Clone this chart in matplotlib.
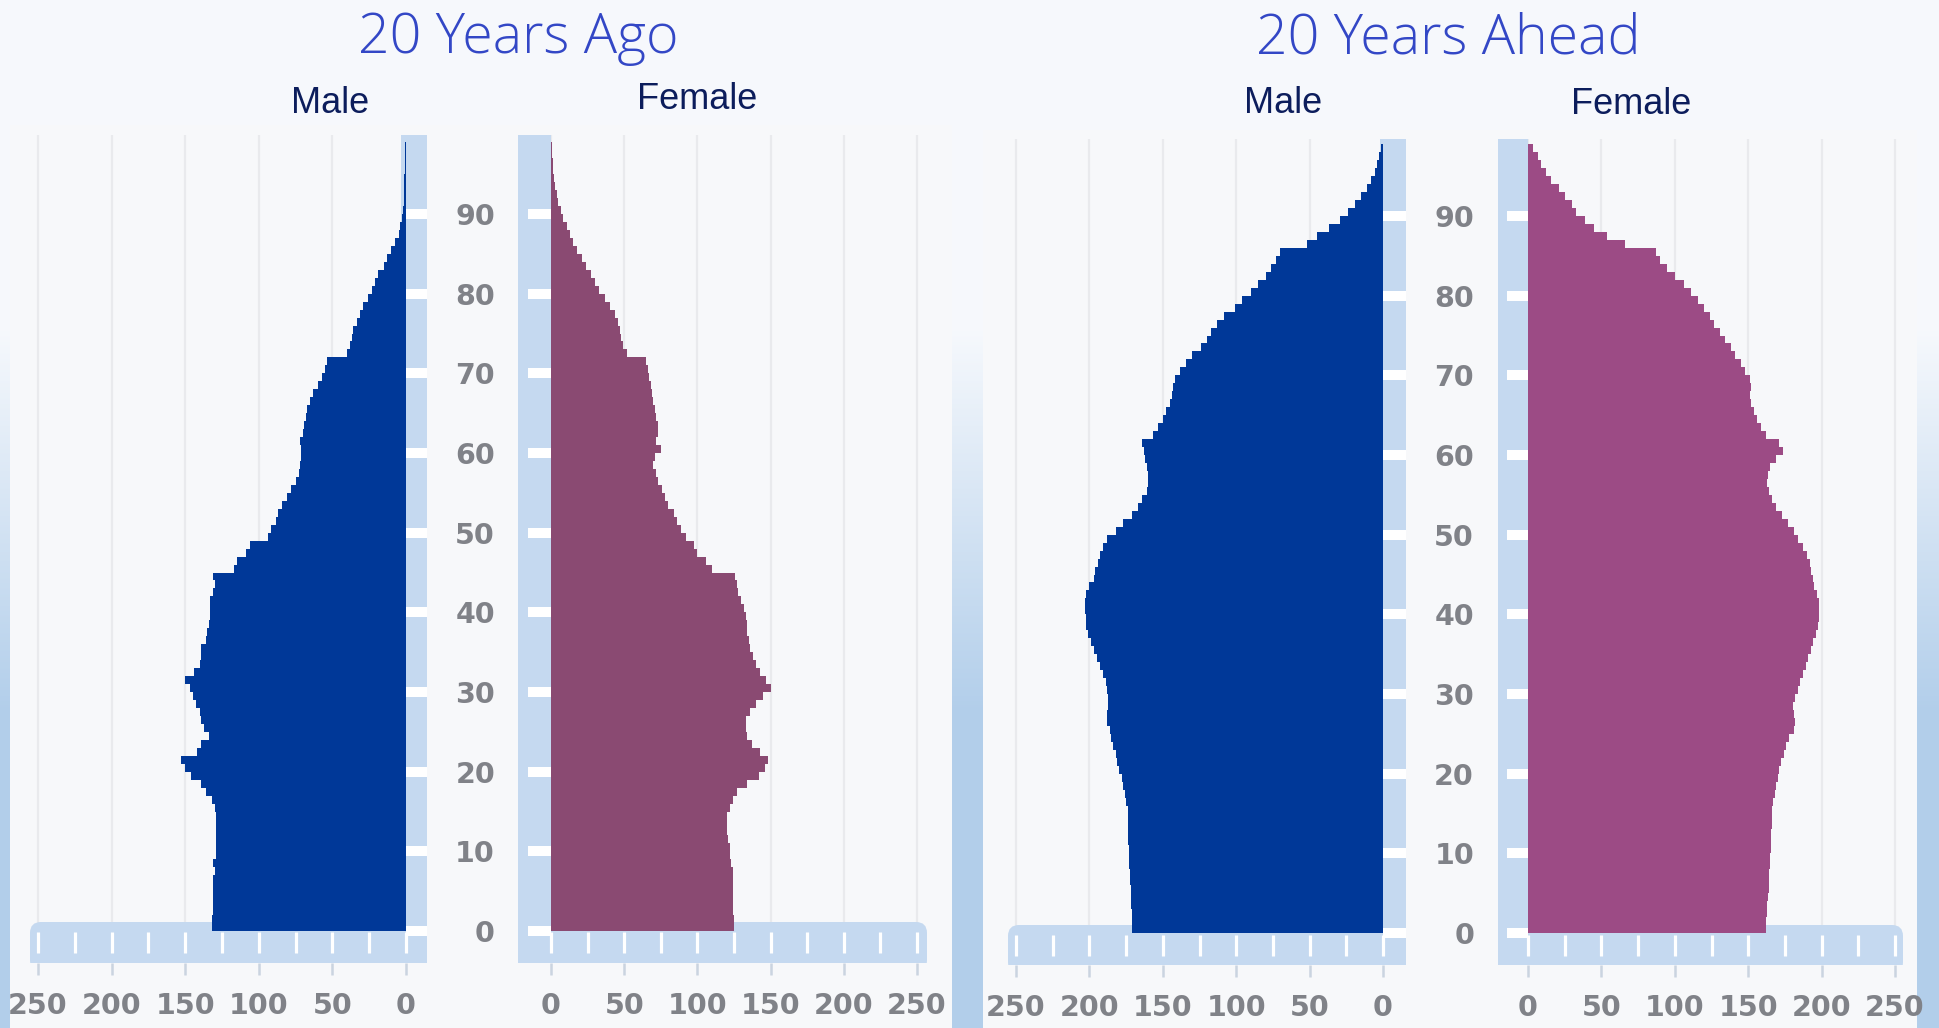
import numpy as np
import matplotlib.pyplot as plt
from matplotlib.patches import Rectangle, FancyBboxPatch

# ------------------------------------------------------------
# data (thousands of people per single year of age)
# ------------------------------------------------------------
ages = np.arange(99)

ago_male = [
    132, 132, 131, 131, 131, 131, 131, 130, 131, 129,
    129, 129, 129, 129, 129, 130, 132, 136, 139, 146,
    150, 153, 142, 139, 134, 137, 139, 140, 143, 145,
    147, 150, 144, 140, 139, 139, 136, 135, 134, 133,
    133, 133, 131, 130, 131, 117, 115, 109, 106, 94,
    92, 88, 87, 84, 81, 78, 75, 73, 72, 71,
    71, 72, 70, 69, 68, 67, 65, 63, 60, 57,
    55, 54, 40, 38, 37, 36, 33, 31, 29, 26,
    23, 21, 19, 15, 13, 10, 7.5, 5, 4, 3,
    2, 1.5, 1.5, 1.2, 1.2, 1, 1, 1, 1,
]
ago_female = [
    125, 125, 124, 124, 124, 124, 124, 124, 123, 122,
    122, 121, 120, 120, 120, 122, 124, 127, 134, 142,
    146, 148, 143, 137, 134, 133, 133, 136, 140, 145,
    150, 147, 143, 140, 138, 136, 135, 134, 134, 133,
    132, 130, 128, 127, 126, 110, 106, 100, 98, 92,
    89, 86, 84, 80, 78, 76, 73, 72, 70, 71,
    75, 72, 73, 73, 72, 71, 70, 69, 68, 67,
    66, 65, 52, 49, 48, 47, 46, 44, 40, 37,
    33, 30, 27, 24, 21, 18, 15, 13, 11, 8.5,
    6.5, 5, 4, 3, 2.3, 1.6, 1.2, 1, 0.8,
]
ahead_male = [
    171, 171, 171, 171.5, 172, 172, 172.5, 172.5, 173, 173,
    173, 173.5, 173.5, 174, 174, 174, 175, 176, 177, 178,
    180, 181, 182, 184, 185, 186, 188, 188, 187, 187,
    188, 189, 191, 193, 195, 197, 199, 201, 202, 202,
    203, 203, 202, 200, 197, 196, 194, 193, 191, 188,
    182, 177, 171, 167, 164, 161, 160, 160, 161, 162,
    163, 164, 157, 153, 150, 148, 145, 144, 143, 142,
    138, 134, 130, 124, 120, 117, 113, 108, 101, 96,
    90, 85, 80, 76, 73, 70, 52, 45, 37, 29,
    24, 19, 15, 11, 8, 5.5, 4, 2.5, 1.5,
]
ahead_female = [
    162, 162, 163, 163, 163.5, 164, 164, 164.5, 165, 165,
    165.5, 165.5, 165.5, 166, 166, 166.5, 167, 168, 169, 170,
    171, 172.5, 174.5, 176, 178, 181, 182, 181, 180.5, 182,
    184, 185.5, 187.5, 189.5, 191, 193, 194, 196.5, 197.5, 198.5,
    198.5, 198, 197, 195, 194, 193, 192, 190, 187, 184,
    181, 177, 173, 169, 166, 164, 163, 163.5, 165, 169,
    174, 171, 162, 159, 156, 154, 152, 151, 152, 151,
    148, 145, 141, 138, 134, 131, 127, 124, 120, 116,
    111, 106, 100, 95, 90, 87, 66, 54, 45, 39,
    33, 30, 25, 21, 16, 12, 9, 6.6, 3.5,
]

x_ticks = [0, 50, 100, 150, 200, 250]
age_ticks = [0, 10, 20, 30, 40, 50, 60, 70, 80, 90]
titles = ["20 Years Ago", "20 Years Ahead"]

# ------------------------------------------------------------
# layout (pixel positions in the 1939x1028 picture)
# ------------------------------------------------------------
W, H = 1939, 1028
MALE_C = "#003898"
STRIP = "#c5d9f0"
TICK_GREY = "#808288"
LABEL_SIZE = 20.5

panels = [
    dict(title_x=518, title_base=53,
         male_lab=(330, 113), fem_lab=(697, 109),
         m_zero=406, m_250=38, f_zero=551, f_250=917,
         age0=931, age90=214, top=135, bottom=963, strip_top=922,
         m_left=14, m_right=427, m_strip=401, m_strip_x0=30,
         f_left=518, f_right=935, f_notch=528, f_strip_x1=927,
         lab_right=495, bg=(10, 125, 952),
         male=ago_male, female=ago_female, f_color="#8a4a72"),
    dict(title_x=1448, title_base=53,
         male_lab=(1283, 113), fem_lab=(1631, 114),
         m_zero=1383, m_250=1016, f_zero=1528, f_250=1895,
         age0=933, age90=216, top=139, bottom=965, strip_top=925,
         m_left=990, m_right=1406, m_strip=1380, m_strip_x0=1008,
         f_left=1498, f_right=1912, f_notch=1507, f_strip_x1=1903,
         lab_right=1474, bg=(983, 130, 1917),
         male=ahead_male, female=ahead_female, f_color="#9c4b85"),
]


def fig_rect(x0, y0, x1, y1):
    return [x0 / W, 1 - y1 / H, (x1 - x0) / W, (y1 - y0) / H]


fig = plt.figure(figsize=(W / 100, H / 100), dpi=100)

# slide background: near white at the top, light blue towards the bottom
bg_ax = fig.add_axes([0, 0, 1, 1], zorder=-10)
yy = np.linspace(0, H, 400)
t = np.clip((yy - 330) / 380, 0, 1)[:, None]
top_c = np.array([0.965, 0.975, 0.99])
bot_c = np.array([0.70, 0.81, 0.92])
grad = (top_c * (1 - t) + bot_c * t)[:, None, :]
bg_ax.imshow(grad, aspect="auto", extent=[0, 1, 0, 1])
bg_ax.axis("off")


def style_common(ax, xlim, ylim):
    ax.set_xlim(*xlim)
    ax.set_ylim(*ylim)
    ax.set_facecolor("none")
    for s in ax.spines.values():
        s.set_visible(False)
    ax.set_xticks(x_ticks)
    ax.set_xticklabels([str(v) for v in x_ticks])
    ax.tick_params(axis="x", direction="out", length=8.6, width=1.8,
                   color="#cad4e0", pad=12.5, labelsize=LABEL_SIZE,
                   labelcolor=TICK_GREY)
    for lab in ax.get_xticklabels():
        lab.set_fontweight("bold")
    ax.grid(axis="x", color="#e9eaed", lw=1.6)
    ax.set_axisbelow(True)


for p in panels:
    # picture panel behind the two half-pyramids
    bx0, by0, bx1 = p["bg"]
    fig.add_artist(Rectangle((bx0 / W, 0), (bx1 - bx0) / W, 1 - by0 / H,
                             transform=fig.transFigure, color="#f7f8fa",
                             lw=0, zorder=-5))

    sy = (p["age0"] - p["age90"]) / 90.0
    ylim = ((p["age0"] - p["bottom"]) / sy, (p["age0"] - p["top"]) / sy)
    y_strip = (p["age0"] - p["strip_top"]) / sy
    tick_lo = (p["age0"] - (p["strip_top"] + 31)) / sy
    tick_hi = (p["age0"] - (p["strip_top"] + 10)) / sy

    # ---------------- male ----------------
    sx = (p["m_zero"] - p["m_250"]) / 250.0
    axm = fig.add_axes(fig_rect(p["m_left"], p["top"], p["m_right"], p["bottom"]))
    xl = (p["m_zero"] - p["m_left"]) / sx
    xr = (p["m_zero"] - p["m_right"]) / sx
    style_common(axm, (xl, xr), ylim)
    axm.set_yticks([])

    xs = (p["m_zero"] - p["m_strip"]) / sx
    axm.add_patch(Rectangle((xr, ylim[0]), xs - xr, ylim[1] - ylim[0],
                            color=STRIP, lw=0, zorder=1))
    hx0 = (p["m_zero"] - p["m_strip_x0"]) / sx
    r = 11 / sx
    axm.add_patch(FancyBboxPatch((xr - 30, ylim[0] - 1), hx0 - (xr - 30),
                                 y_strip - ylim[0] + 1,
                                 boxstyle=f"round,pad=0,rounding_size={r:.3f}",
                                 mutation_aspect=sx / sy,
                                 color=STRIP, lw=0, zorder=1))
    axm.vlines(np.arange(0, 251, 25), tick_lo, tick_hi, colors="white",
               lw=2.3, zorder=2)
    for a in age_ticks:
        axm.add_patch(Rectangle((xr, a - 0.62), -xr, 1.24, color="white",
                                lw=0, zorder=2))
    axm.barh(ages, p["male"], height=1.0, align="edge", color=MALE_C,
             lw=0, zorder=3)

    # ---------------- female ----------------
    sxf = (p["f_250"] - p["f_zero"]) / 250.0
    axf = fig.add_axes(fig_rect(p["f_left"], p["top"], p["f_right"], p["bottom"]))
    fl = (p["f_left"] - p["f_zero"]) / sxf
    fr = (p["f_right"] - p["f_zero"]) / sxf
    style_common(axf, (fl, fr), ylim)
    axf.set_yticks(age_ticks)
    axf.set_yticklabels([str(a) for a in age_ticks])
    axf.tick_params(axis="y", length=0, labelsize=LABEL_SIZE,
                    labelcolor=TICK_GREY,
                    pad=(p["f_left"] - p["lab_right"]) * 0.72)
    for lab in axf.get_yticklabels():
        lab.set_fontweight("bold")

    axf.add_patch(Rectangle((fl, ylim[0]), -fl, ylim[1] - ylim[0],
                            color=STRIP, lw=0, zorder=1))
    hx1 = (p["f_strip_x1"] - p["f_zero"]) / sxf
    r = 11 / sxf
    axf.add_patch(FancyBboxPatch((fl - 30, ylim[0] - 1), hx1 - (fl - 30),
                                 y_strip - ylim[0] + 1,
                                 boxstyle=f"round,pad=0,rounding_size={r:.3f}",
                                 mutation_aspect=sxf / sy,
                                 color=STRIP, lw=0, zorder=1))
    axf.vlines(np.arange(0, 251, 25), tick_lo, tick_hi, colors="white",
               lw=2.3, zorder=2)
    fn = (p["f_notch"] - p["f_zero"]) / sxf
    for a in age_ticks:
        axf.add_patch(Rectangle((fn, a - 0.62), -fn, 1.24, color="white",
                                lw=0, zorder=2))
    axf.barh(ages, p["female"], height=1.0, align="edge", color=p["f_color"],
             lw=0, zorder=3)

    # ---------------- labels ----------------
    mx, my = p["male_lab"]
    fig.text(mx / W, 1 - my / H, "Male", ha="center", va="baseline",
             fontsize=26, family="Liberation Sans", color="#0c1d5c")
    fx, fy = p["fem_lab"]
    fig.text(fx / W, 1 - fy / H, "Female", ha="center", va="baseline",
             fontsize=26, family="Liberation Sans", color="#0c1d5c")

for p, title in zip(panels, titles):
    fig.text(p["title_x"] / W, 1 - p["title_base"] / H, title,
             ha="center", va="baseline", fontsize=40, family="Open Sans",
             weight="light", color="#3347c6")

fig.savefig("out.png", dpi=100)
